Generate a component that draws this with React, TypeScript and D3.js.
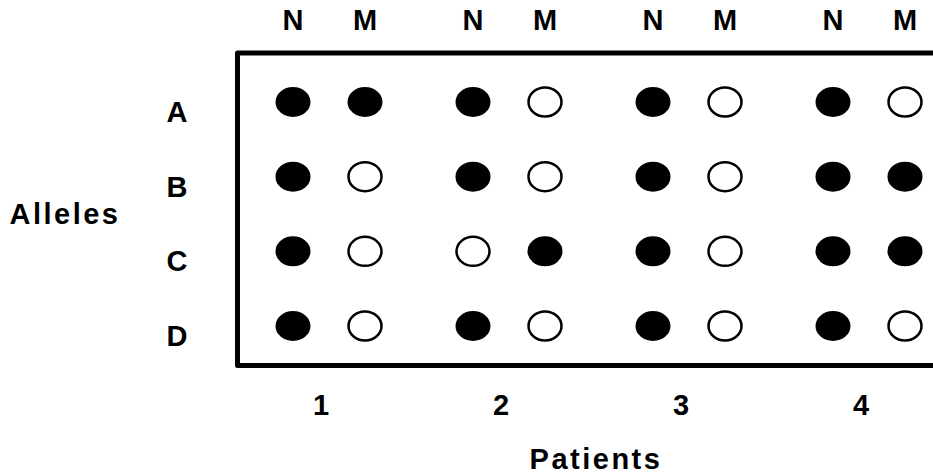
import React, { useMemo } from "react";
import * as d3 from "d3";

const WIDTH = 933;
const HEIGHT = 475;

const patients = ["1", "2", "3", "4"];
const alleles = ["A", "B", "C", "D"];
const types = ["N", "M"];

// 1 = filled dot, 0 = open dot; order: P1 N, P1 M, P2 N, P2 M, ...
const alleleA = [1, 1, 1, 0, 1, 0, 1, 0];
const alleleB = [1, 0, 1, 0, 1, 0, 1, 1];
const alleleC = [1, 0, 0, 1, 1, 0, 1, 1];
const alleleD = [1, 0, 1, 0, 1, 0, 1, 0];

const FONT = "'Liberation Sans', Arial, Helvetica, sans-serif";

export default function App() {
  const rows = [alleleA, alleleB, alleleC, alleleD];

  const xPatient = useMemo(
    () => d3.scalePoint().domain(patients).range([329, 869]),
    []
  );
  const xType = useMemo(
    () => d3.scalePoint().domain(types).range([-36, 36]),
    []
  );
  const y = useMemo(
    () => d3.scalePoint().domain(alleles).range([102, 326]),
    []
  );

  const box = { left: 237.5, top: 53, bottom: 365.5, right: 945 };

  const dots = [];
  alleles.forEach((a, ai) => {
    patients.forEach((p, pi) => {
      types.forEach((t, ti) => {
        const v = rows[ai][pi * 2 + ti];
        const cx = xPatient(p) + xType(t);
        const cy = y(a);
        dots.push(
          v ? (
            <ellipse key={`${a}${p}${t}`} cx={cx} cy={cy} rx={17.5} ry={15} fill="#000" />
          ) : (
            <ellipse
              key={`${a}${p}${t}`}
              cx={cx}
              cy={cy}
              rx={16.5}
              ry={14.5}
              fill="#fff"
              stroke="#000"
              strokeWidth={2.5}
            />
          )
        );
      });
    });
  });

  return (
    <svg
      width={WIDTH}
      height={HEIGHT}
      style={{ position: "absolute", left: 0, top: 0, background: "#fff" }}
      fontFamily={FONT}
      fontWeight="bold"
    >
      <rect width={WIDTH} height={HEIGHT} fill="#fff" />
      <path
        d={`M${box.right},${box.top}H${box.left}V${box.bottom}H${box.right}`}
        fill="none"
        stroke="#000"
        strokeWidth={5}
        strokeLinejoin="round"
      />
      {patients.map((p) =>
        types.map((t) => (
          <text
            key={`h${p}${t}`}
            x={xPatient(p) + xType(t)}
            y={30}
            fontSize={29}
            textAnchor="middle"
          >
            {t}
          </text>
        ))
      )}
      {alleles.map((a) => (
        <text key={`r${a}`} x={177} y={y(a) + 20} fontSize={29} textAnchor="middle">
          {a}
        </text>
      ))}
      {patients.map((p) => (
        <text key={`p${p}`} x={xPatient(p) - 8} y={415} fontSize={29} textAnchor="middle">
          {p}
        </text>
      ))}
      <text x={65} y={224} fontSize={29} textAnchor="middle" letterSpacing={2.5}>
        Alleles
      </text>
      <text x={596} y={469} fontSize={29} textAnchor="middle" letterSpacing={2.5}>
        Patients
      </text>
      {dots}
    </svg>
  );
}
